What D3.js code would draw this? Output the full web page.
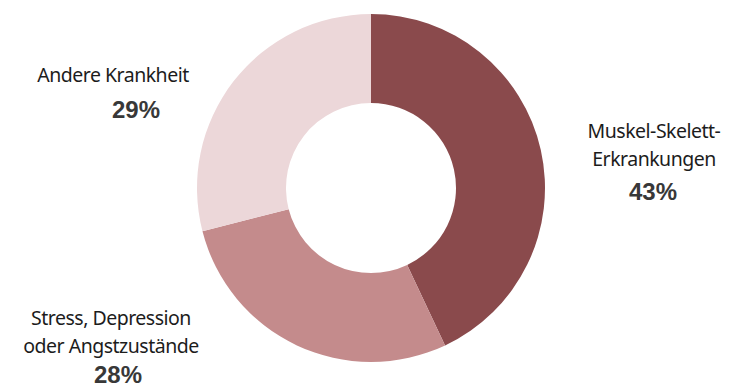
<!DOCTYPE html>
<html>
<head>
<meta charset="utf-8">
<script src="https://cdn.jsdelivr.net/npm/d3@7"></script>
<style>
	html, body { margin: 0; padding: 0; background: #fff; }
	svg { display: block; }
	.label { font-family: "Noto Sans", sans-serif; font-size: 19.5px; letter-spacing: -0.5px; fill: #1c1c1c; }
	.pct { font-family: "Liberation Sans", Arial, sans-serif; font-weight: bold; font-size: 24px; fill: #383838; }
</style>
</head>
<body>
<div id="chart"></div>
<script>
// Data
const categories = ["Muskel-Skelett-Erkrankungen", "Stress, Depression oder Angstzustände", "Andere Krankheit"];
const labelLines = [
	["Muskel-Skelett-", "Erkrankungen"],
	["Stress, Depression", "oder Angstzustände"],
	["Andere Krankheit"],
];
const shares = [43, 28, 29];
const colors = ["#8a4a4c", "#c48b8c", "#ecd7d9"];

// Layout
const width = 735;
const height = 389;
const cx = 371;
const cy = 188;
const outerR = 174;
const innerR = 85;

// label anchors: text centre x, first baseline y, percentage centre x, percentage baseline y
const labelPos = [
	{ x: 654, y: 138, px: 653, py: 200 },
	{ x: 111, y: 325, px: 118, py: 383 },
	{ x: 113, y: 82, px: 136, py: 118 },
];
const lineGap = 27.5;

const svg = d3
	.select("#chart")
	.append("svg")
	.attr("width", width)
	.attr("height", height);

const g = svg.append("g").attr("transform", `translate(${cx},${cy})`);

const pie = d3.pie().sort(null).value((d) => d);
const arc = d3.arc().innerRadius(innerR).outerRadius(outerR);

const arcs = pie(shares);

g.selectAll("path.slice")
	.data(arcs)
	.enter()
	.append("path")
	.attr("class", "slice")
	.attr("d", arc)
	.attr("fill", (d, i) => colors[i]);

// Labels
categories.forEach((cat, i) => {
	const pos = labelPos[i];
	const t = svg
		.append("text")
		.attr("class", "label")
		.attr("text-anchor", "middle");
	labelLines[i].forEach((line, j) => {
		t.append("tspan")
			.attr("x", pos.x)
			.attr("y", pos.y + j * lineGap)
			.text(line);
	});
	svg.append("text")
		.attr("class", "pct")
		.attr("text-anchor", "middle")
		.attr("x", pos.px)
		.attr("y", pos.py)
		.text(`${shares[i]}%`);
});
</script>
</body>
</html>
